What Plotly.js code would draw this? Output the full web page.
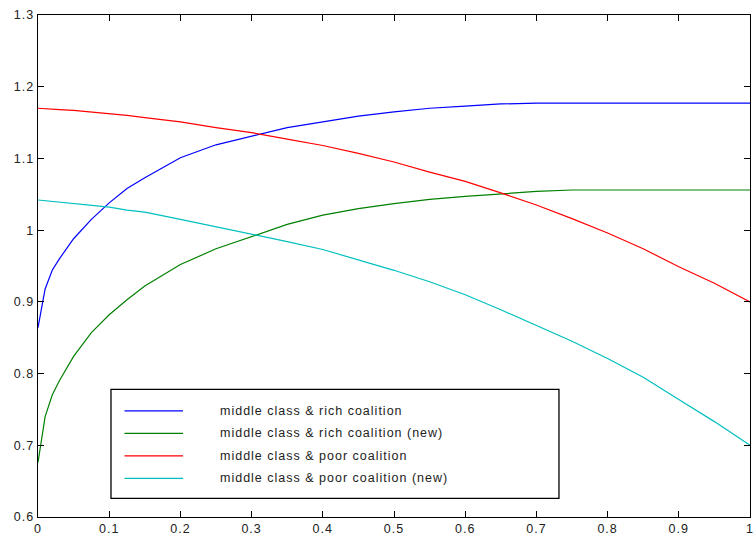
<!DOCTYPE html>
<html>
<head>
<meta charset="utf-8">
<script src="https://cdn.plot.ly/plotly-3.0.1.min.js"></script>
<style>
html,body{margin:0;padding:0;background:#fff;}
#chart{width:756px;height:539px;}
#chart .xtick text, #chart .ytick text, #chart .annotation-text { letter-spacing: 1px; }
</style>
</head>
<body>
<div id="chart"></div>
<script>
// Shared x values
const xVals = [0, 0.01, 0.02, 0.03, 0.05, 0.075, 0.1, 0.125, 0.15, 0.2, 0.25, 0.3, 0.35, 0.4, 0.45, 0.5, 0.55, 0.6, 0.65, 0.7, 0.75, 0.8, 0.85, 0.9, 0.95, 1.0];

const richCoalition = [0.864, 0.918, 0.944, 0.960, 0.988, 1.015, 1.038, 1.058, 1.073, 1.101, 1.119, 1.131, 1.143, 1.151, 1.159, 1.165, 1.170, 1.173, 1.176, 1.177, 1.177, 1.177, 1.177, 1.177, 1.177, 1.177];
const richCoalitionNew = [0.676, 0.740, 0.770, 0.790, 0.824, 0.857, 0.882, 0.903, 0.922, 0.952, 0.974, 0.991, 1.008, 1.021, 1.030, 1.037, 1.043, 1.047, 1.051, 1.054, 1.056, 1.056, 1.056, 1.056, 1.056, 1.056];
const poorCoalition = [1.170, 1.169, 1.169, 1.168, 1.167, 1.165, 1.163, 1.160, 1.157, 1.151, 1.143, 1.136, 1.127, 1.118, 1.107, 1.095, 1.081, 1.068, 1.052, 1.035, 1.016, 0.996, 0.974, 0.949, 0.926, 0.900];
const poorCoalitionNew = [1.042, 1.041, 1.040, 1.039, 1.037, 1.035, 1.032, 1.028, 1.025, 1.015, 1.005, 0.995, 0.984, 0.973, 0.959, 0.944, 0.928, 0.910, 0.889, 0.867, 0.845, 0.821, 0.795, 0.764, 0.733, 0.700];

const seriesNames = [
  "middle class & rich coalition",
  "middle class & rich coalition (new)",
  "middle class & poor coalition",
  "middle class & poor coalition (new)"
];
const seriesValues = [richCoalition, richCoalitionNew, poorCoalition, poorCoalitionNew];
const seriesColors = ["#0000ff", "#008000", "#ff0000", "#00bfbf"];

const xTicks = [0, 0.1, 0.2, 0.3, 0.4, 0.5, 0.6, 0.7, 0.8, 0.9, 1];
const xTickText = ["0", "0.1", "0.2", "0.3", "0.4", "0.5", "0.6", "0.7", "0.8", "0.9", "1"];
const yTicks = [0.6, 0.7, 0.8, 0.9, 1.0, 1.1, 1.2, 1.3];
const yTickText = ["0.6", "0.7", "0.8", "0.9", "1", "1.1", "1.2", "1.3"];

const traces = seriesValues.map((vals, i) => ({
  type: "scatter",
  mode: "lines",
  x: xVals,
  y: vals,
  name: seriesNames[i],
  line: {color: seriesColors[i], width: 1.2},
  showlegend: false
}));

// Manual legend box (paper coordinates)
const legX0 = 0.1025, legX1 = 0.7317, legY0 = 0.037, legY1 = 0.2542;
const sampleX0 = 0.1215, sampleX1 = 0.2037, textX = 0.2528;
const rowY = [0.2114, 0.1666, 0.1217, 0.0769];

const shapes = [{
  type: "rect", xref: "paper", yref: "paper",
  x0: legX0, x1: legX1, y0: legY0, y1: legY1,
  line: {color: "#000", width: 1.3}, fillcolor: "#fff", layer: "above"
}];
const annotations = [];
seriesNames.forEach((n, i) => {
  shapes.push({
    type: "line", xref: "paper", yref: "paper",
    x0: sampleX0, x1: sampleX1, y0: rowY[i], y1: rowY[i],
    line: {color: seriesColors[i], width: 1.2}, layer: "above"
  });
  annotations.push({
    xref: "paper", yref: "paper", x: textX, y: rowY[i],
    xanchor: "left", yanchor: "middle", align: "left", showarrow: false,
    text: n, font: {family: "Liberation Sans, Arial, sans-serif", size: 12.5, color: "#222"}
  });
});

const axisCommon = {
  showline: true, linecolor: "#000", linewidth: 1.3, mirror: "ticks",
  ticks: "inside", ticklen: 6, tickwidth: 1, tickcolor: "#000",
  showgrid: false, zeroline: false,
  tickfont: {family: "Liberation Sans, Arial, sans-serif", size: 12.5, color: "#222"}
};

const layout = {
  width: 756, height: 539,
  margin: {l: 38, r: 6, t: 15, b: 22},
  paper_bgcolor: "#fff", plot_bgcolor: "#fff",
  showlegend: false,
  xaxis: Object.assign({}, axisCommon, {range: [0, 1], tickvals: xTicks, ticktext: xTickText}),
  yaxis: Object.assign({}, axisCommon, {range: [0.6, 1.3], tickvals: yTicks, ticktext: yTickText}),
  shapes: shapes,
  annotations: annotations
};

Plotly.newPlot("chart", traces, layout, {displayModeBar: false, staticPlot: true});
</script>
</body>
</html>
